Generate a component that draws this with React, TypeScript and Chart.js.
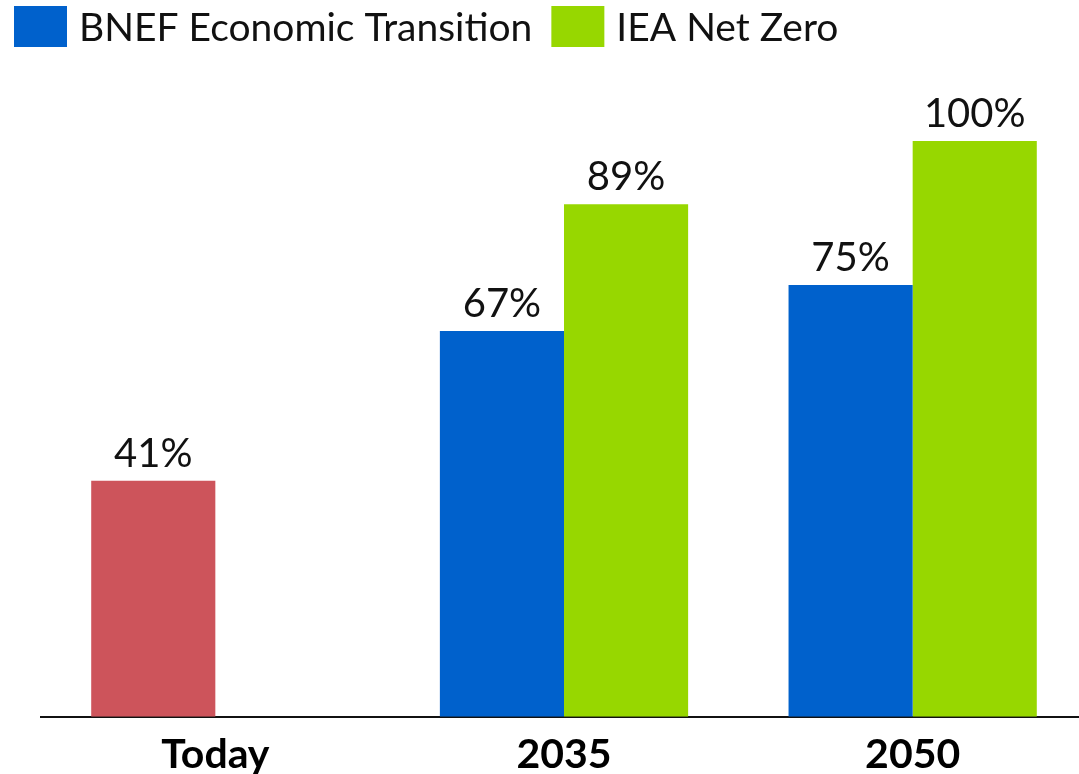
import React, { useEffect, useRef } from "react";
import { Chart, registerables } from "chart.js";

Chart.register(...registerables);

// Share of demand, by scenario
const categories = ["Today", "2035", "2050"];
const bnefValues = [41, 67, 75];
const ieaValues = [null, 89, 100];
const seriesNames = ["BNEF Economic Transition", "IEA Net Zero"];

const BLUE = "#0061CC";
const GREEN = "#97D700";
const RED = "#CD545B";
const FONT = "Lato, 'Open Sans', sans-serif";

// Draws the percentage above each bar
const valueLabels = {
  id: "valueLabels",
  afterDatasetsDraw(chart: any) {
    const ctx = chart.ctx;
    ctx.save();
    ctx.fillStyle = "#111";
    ctx.font = `400 40px ${FONT}`;
    ctx.textAlign = "center";
    ctx.textBaseline = "alphabetic";
    chart.data.datasets.forEach((ds: any, di: number) => {
      const meta = chart.getDatasetMeta(di);
      meta.data.forEach((bar: any, i: number) => {
        const v = ds.data[i];
        if (v === null || v === undefined) return;
        ctx.fillText(`${v}%`, bar.x, bar.y - 14);
      });
    });
    ctx.restore();
  },
};

// Legend row at the top-left: square swatch followed by the series name
const topLegend = {
  id: "topLegend",
  afterDraw(chart: any) {
    const ctx = chart.ctx;
    const swatches = [BLUE, GREEN];
    ctx.save();
    ctx.font = `400 39px ${FONT}`;
    ctx.textBaseline = "middle";
    ctx.textAlign = "left";
    let x = 14;
    seriesNames.forEach((name, i) => {
      ctx.fillStyle = swatches[i];
      ctx.fillRect(x, 6, 53, 41);
      ctx.fillStyle = "#111";
      const tx = x + 53 + 12;
      ctx.fillText(name, tx, 28);
      x = tx + ctx.measureText(name).width + 19;
    });
    ctx.restore();
  },
};

export default function App() {
  const canvasRef = useRef<HTMLCanvasElement | null>(null);

  useEffect(() => {
    const canvas = canvasRef.current;
    if (!canvas) return;
    const chart = new Chart(canvas, {
      type: "bar",
      data: {
        labels: categories,
        datasets: [
          {
            label: seriesNames[0],
            data: bnefValues,
            backgroundColor: [RED, BLUE, BLUE],
            borderWidth: 0,
          },
          {
            label: seriesNames[1],
            data: ieaValues,
            backgroundColor: GREEN,
            borderWidth: 0,
          },
        ],
      },
      options: {
        responsive: false,
        animation: false,
        categoryPercentage: 0.712,
        barPercentage: 1,
        layout: { padding: { top: 141, left: 41, right: 13, bottom: 8 } },
        plugins: {
          legend: { display: false },
          tooltip: { enabled: false },
        },
        scales: {
          x: {
            grid: { display: false, drawTicks: false },
            border: { display: true, color: "#111", width: 2 },
            ticks: {
              color: "#000",
              padding: 13,
              font: { family: FONT, size: 41, weight: "bold", lineHeight: 1.2 },
            },
          },
          y: {
            display: false,
            min: 0,
            max: 100,
          },
        },
      },
      plugins: [valueLabels, topLegend],
    } as any);
    return () => chart.destroy();
  }, []);

  return (
    <div style={{ position: "fixed", left: 0, top: 0, width: 1100, height: 800, background: "#fff" }}>
      <canvas ref={canvasRef} width={1100} height={800} style={{ display: "block" }} />
    </div>
  );
}
